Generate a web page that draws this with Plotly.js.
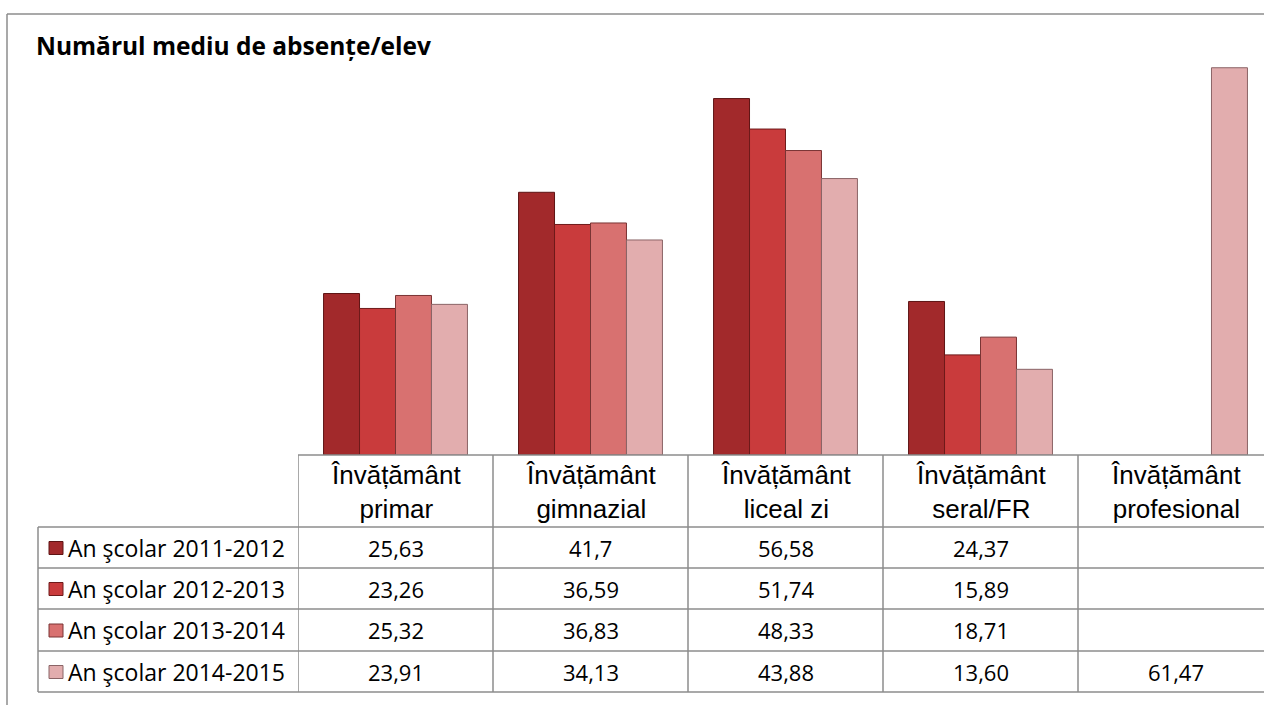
<!DOCTYPE html>
<html>
<head>
<meta charset="utf-8">
<script src="https://cdn.plot.ly/plotly-3.0.1.min.js"></script>
<style>
html,body{margin:0;padding:0;background:#fff;overflow:hidden;}
#chart{width:1264px;height:705px;}
</style>
</head>
<body>
<div id="chart"></div>
<script>
// ---- data ----
const categories = ["Învățământ primar", "Învățământ gimnazial", "Învățământ liceal zi", "Învățământ seral/FR", "Învățământ profesional"];
const headerLabels = ["Învățământ<br>primar", "Învățământ<br>gimnazial", "Învățământ<br>liceal zi", "Învățământ<br>seral/FR", "Învățământ<br>profesional"];
const seriesNames = ["An şcolar 2011-2012", "An şcolar 2012-2013", "An şcolar 2013-2014", "An şcolar 2014-2015"];
const an2011 = [25.63, 41.7, 56.58, 24.37, null];
const an2012 = [23.26, 36.59, 51.74, 15.89, null];
const an2013 = [25.32, 36.83, 48.33, 18.71, null];
const an2014 = [23.91, 34.13, 43.88, 13.60, 61.47];
const label2011 = ["25,63", "41,7", "56,58", "24,37", ""];
const label2012 = ["23,26", "36,59", "51,74", "15,89", ""];
const label2013 = ["25,32", "36,83", "48,33", "18,71", ""];
const label2014 = ["23,91", "34,13", "43,88", "13,60", "61,47"];

const seriesValues = [an2011, an2012, an2013, an2014];
const seriesLabels = [label2011, label2012, label2013, label2014];
const colors = ["#a2292b", "#c93b3c", "#d87170", "#e2adae"];
const lineColors = ["#5e1414", "#6e1a1a", "#7a3434", "#8a6466"];

// ---- geometry helpers (pixel -> paper) ----
const W = 1264, H = 705;
const mL = 298, mR = 0, mT = 14, mB = 250;
const plotW = W - mL - mR, plotH = H - mT - mB;
const px = p => (p - mL) / plotW;
const py = p => (H - mB - p) / plotH;
const catW = 195;
const span = plotW / catW;

const traces = seriesValues.map((vals, i) => ({
  type: "bar",
  name: seriesNames[i],
  x: categories,
  y: vals,
  marker: {color: colors[i], line: {color: lineColors[i], width: 1}},
  hoverinfo: "skip",
  showlegend: false
}));

const gray = "#8c8c8c";
const shapes = [];
const annotations = [];
const calibri = "Open Sans, Noto Sans, Lato";

// outer border
shapes.push({type: "line", xref: "paper", yref: "paper", x0: px(7), x1: px(1270), y0: py(14), y1: py(14), line: {color: gray, width: 1.5}});
shapes.push({type: "line", xref: "paper", yref: "paper", x0: px(7), x1: px(7), y0: py(14), y1: py(710), line: {color: gray, width: 1.5}});

// table
const headTop = 455, rowTops = [527, 568, 609, 651, 692];
shapes.push({type: "line", xref: "paper", yref: "paper", x0: px(298), x1: px(1270), y0: py(headTop), y1: py(headTop), line: {color: gray, width: 1.5}});
rowTops.forEach(t => shapes.push({type: "line", xref: "paper", yref: "paper", x0: px(38), x1: px(1270), y0: py(t), y1: py(t), line: {color: gray, width: 1.5}}));
shapes.push({type: "line", xref: "paper", yref: "paper", x0: px(38), x1: px(38), y0: py(rowTops[0]), y1: py(rowTops[4]), line: {color: gray, width: 1.5}});
categories.forEach((c, i) => {
  shapes.push({type: "line", xref: "x", yref: "paper", x0: i - 0.5, x1: i - 0.5, y0: py(headTop), y1: py(rowTops[4]), line: {color: gray, width: 1.5}});
  annotations.push({xref: "x", yref: "paper", x: i, y: py(492), text: headerLabels[i], showarrow: false,
    font: {family: "Liberation Sans, Arial", size: 26, color: "#000"}, align: "center", xanchor: "center", yanchor: "middle"});
});

// rows
seriesNames.forEach((n, r) => {
  const cy = (rowTops[r] + rowTops[r + 1]) / 2;
  shapes.push({type: "rect", xref: "paper", yref: "paper", x0: px(49), x1: px(63), y0: py(cy - 6), y1: py(cy + 7),
    fillcolor: colors[r], line: {color: lineColors[r], width: 1}});
  annotations.push({xref: "paper", yref: "paper", x: px(66), y: py(cy), text: n, showarrow: false,
    font: {family: calibri, size: 23, color: "#000"}, xanchor: "left", yanchor: "middle"});
  seriesLabels[r].forEach((lab, i) => {
    if (lab === "") return;
    annotations.push({xref: "x", yref: "paper", x: i, y: py(cy), text: lab, showarrow: false,
      font: {family: calibri, size: 22, color: "#000"}, xanchor: "center", yanchor: "middle"});
  });
});

// title
annotations.push({xref: "paper", yref: "paper", x: px(34), y: py(45), text: "<b>Numărul mediu de absențe/elev</b>", showarrow: false,
  font: {family: calibri, size: 24.5, color: "#000"}, xanchor: "left", yanchor: "middle"});

const layout = {
  width: W, height: H,
  margin: {l: mL, r: mR, t: mT, b: mB, pad: 0},
  paper_bgcolor: "#fff", plot_bgcolor: "#fff",
  barmode: "group", bargap: 0.262, bargroupgap: 0,
  xaxis: {type: "category", range: [-0.5, span - 0.5], visible: false, fixedrange: true},
  yaxis: {range: [0, 70], visible: false, fixedrange: true},
  shapes: shapes,
  annotations: annotations,
  showlegend: false
};

Plotly.newPlot("chart", traces, layout, {displayModeBar: false, staticPlot: true});
</script>
</body>
</html>
